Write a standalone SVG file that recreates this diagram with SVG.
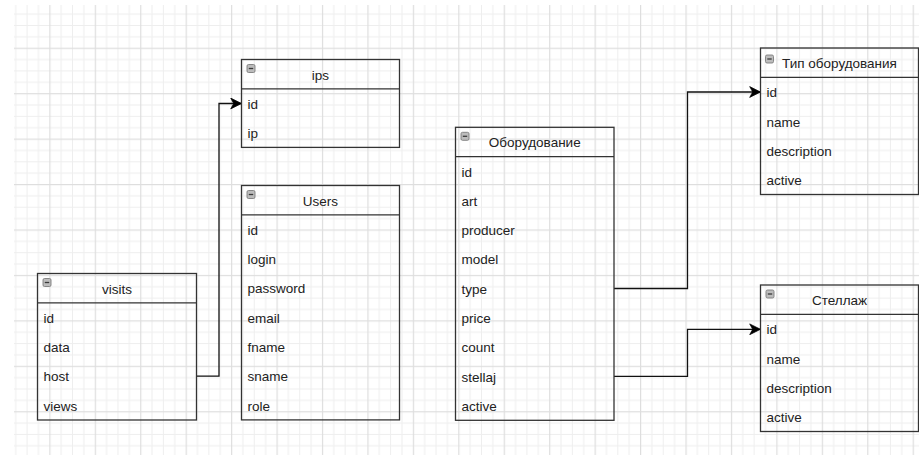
<svg xmlns="http://www.w3.org/2000/svg" width="919" height="458" viewBox="0 0 919 458">
<defs>
<pattern id="grid" patternUnits="userSpaceOnUse" x="3.86" y="2.26" width="45.44" height="45.44">
<rect x="11.36" y="0" width="1" height="45.44" fill="#eeeeee"/>
<rect x="22.72" y="0" width="1" height="45.44" fill="#eeeeee"/>
<rect x="34.08" y="0" width="1" height="45.44" fill="#eeeeee"/>
<rect x="0" y="11.36" width="45.44" height="1" fill="#eeeeee"/>
<rect x="0" y="22.72" width="45.44" height="1" fill="#eeeeee"/>
<rect x="0" y="34.08" width="45.44" height="1" fill="#eeeeee"/>
<rect x="0" y="0" width="1.2" height="45.44" fill="#dedede"/>
<rect x="0" y="0" width="45.44" height="1.2" fill="#dedede"/>
</pattern>
<marker id="arrow" markerUnits="userSpaceOnUse" markerWidth="12" markerHeight="12" viewBox="0 0 10 10" refX="9.5" refY="5" orient="auto">
<path d="M0.5,0.5 L9.5,5 L0.5,9.5 L3,5 Z" fill="#000" stroke="#000" stroke-width="0.6"/>
</marker>
<g id="icon">
<rect x="0" y="0" width="8" height="8" rx="1.5" fill="#bcbcbc" stroke="#7d7d7d" stroke-width="0.9"/>
<line x1="1.8" y1="4" x2="6.2" y2="4" stroke="#3a3a3a" stroke-width="1.3"/>
</g>
</defs>
<style>
.box{fill:none;stroke:#333;stroke-width:1.3}
.sep{stroke:#333;stroke-width:1.3}
text{font-family:"Liberation Sans",Arial,sans-serif;font-size:13.5px;fill:#222}
.title{text-anchor:middle}
.conn{fill:none;stroke:#111;stroke-width:1.3}
</style>
<rect x="0" y="0" width="919" height="458" fill="#fff"/>
<rect x="14" y="5" width="905" height="450" fill="url(#grid)"/>

<g id="connectors">
<path class="conn" d="M196.5,376.1 H219 V103.5 H241.5" marker-end="url(#arrow)"/>
<path class="conn" d="M614,288.5 H687.5 V92 H760.5" marker-end="url(#arrow)"/>
<path class="conn" d="M614,376.4 H687.5 V329.3 H760.5" marker-end="url(#arrow)"/>
</g>

<g id="visits" transform="translate(37.5,273.5)">
<rect class="box" x="0" y="0" width="159" height="146.5"/>
<line class="sep" x1="0" y1="29.3" x2="159" y2="29.3"/>
<use href="#icon" x="5.5" y="5"/>
<text class="title" x="79.5" y="20">visits</text>
<text x="6" y="49.3">id</text>
<text x="6" y="78.6">data</text>
<text x="6" y="107.9">host</text>
<text x="6" y="137.2">views</text>
</g>

<g id="ips" transform="translate(241.5,59.5)">
<rect class="box" x="0" y="0" width="158" height="87.9"/>
<line class="sep" x1="0" y1="29.3" x2="158" y2="29.3"/>
<use href="#icon" x="5.5" y="5"/>
<text class="title" x="79" y="20">ips</text>
<text x="6" y="49.3">id</text>
<text x="6" y="78.6">ip</text>
</g>

<g id="users" transform="translate(241.5,185.5)">
<rect class="box" x="0" y="0" width="158" height="234.4"/>
<line class="sep" x1="0" y1="29.3" x2="158" y2="29.3"/>
<use href="#icon" x="5.5" y="5"/>
<text class="title" x="79" y="20">Users</text>
<text x="6" y="49.3">id</text>
<text x="6" y="78.6">login</text>
<text x="6" y="107.9">password</text>
<text x="6" y="137.2">email</text>
<text x="6" y="166.5">fname</text>
<text x="6" y="195.8">sname</text>
<text x="6" y="225.1">role</text>
</g>

<g id="oborudovanie" transform="translate(455.5,127.3)">
<rect class="box" x="0" y="0" width="158.5" height="293"/>
<line class="sep" x1="0" y1="29.3" x2="158.5" y2="29.3"/>
<use href="#icon" x="5.5" y="5"/>
<text class="title" x="79.25" y="20">Оборудование</text>
<text x="6" y="49.3">id</text>
<text x="6" y="78.6">art</text>
<text x="6" y="107.9">producer</text>
<text x="6" y="137.2">model</text>
<text x="6" y="166.5">type</text>
<text x="6" y="195.8">price</text>
<text x="6" y="225.1">count</text>
<text x="6" y="254.4">stellaj</text>
<text x="6" y="283.7">active</text>
</g>

<g id="tip-oborudovaniya" transform="translate(760.5,48)">
<rect class="box" x="0" y="0" width="158" height="146.5"/>
<line class="sep" x1="0" y1="29.3" x2="158" y2="29.3"/>
<use href="#icon" x="5" y="7"/>
<text class="title" x="79" y="20">Тип оборудования</text>
<text x="6" y="49.3">id</text>
<text x="6" y="78.6">name</text>
<text x="6" y="107.9">description</text>
<text x="6" y="137.2">active</text>
</g>

<g id="stellazh" transform="translate(760.5,285)">
<rect class="box" x="0" y="0" width="158" height="146.5"/>
<line class="sep" x1="0" y1="29.3" x2="158" y2="29.3"/>
<use href="#icon" x="5.5" y="5"/>
<text class="title" x="79" y="20">Стеллаж</text>
<text x="6" y="49.3">id</text>
<text x="6" y="78.6">name</text>
<text x="6" y="107.9">description</text>
<text x="6" y="137.2">active</text>
</g>
</svg>
